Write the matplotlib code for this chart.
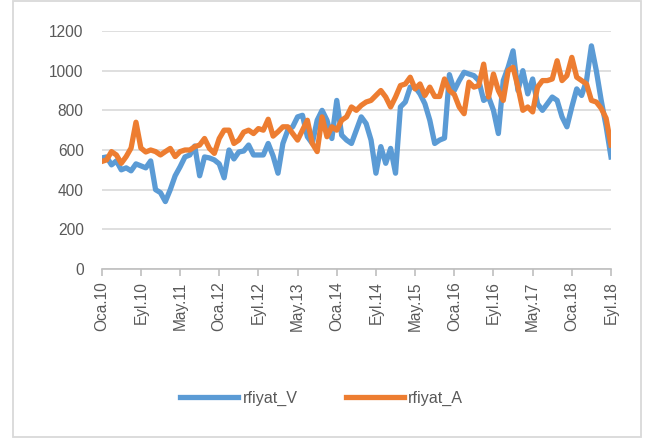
import matplotlib
matplotlib.use("Agg")
import matplotlib.pyplot as plt
from matplotlib.patches import Rectangle

# monthly series, Oca.10 .. Eyl.18 (105 months)
rfiyat_V = [560, 565, 525, 545, 500, 510, 495, 530, 520, 510,
            545, 400, 385, 340, 400, 470, 515, 565, 575, 620,
            470, 565, 560, 550, 530, 460, 600, 555, 590, 595,
            625, 575, 575, 575, 633, 570, 483, 633, 700, 717,
            767, 775, 667, 633, 750, 800, 750, 658, 850, 675,
            650, 633, 700, 767, 733, 650, 483, 617, 533, 608,
            483, 817, 842, 917, 917, 883, 833, 750, 633, 650,
            660, 980, 900, 950, 992, 983, 975, 950, 850, 867,
            800, 683, 950, 1017, 1100, 900, 1000, 883, 958, 833,
            800, 833, 867, 850, 767, 717, 817, 908, 875, 950,
            1125, 1000, 850, 720, 565]
rfiyat_A = [542, 550, 592, 575, 533, 567, 610, 740, 610, 590,
            600, 592, 575, 592, 608, 567, 592, 600, 600, 617,
            625, 658, 608, 583, 658, 700, 700, 633, 650, 690,
            700, 683, 708, 700, 755, 670, 692, 717, 717, 683,
            650, 700, 750, 633, 592, 767, 667, 717, 700, 750,
            767, 817, 800, 825, 842, 850, 875, 900, 867, 817,
            867, 925, 933, 967, 908, 933, 875, 917, 870, 870,
            958, 900, 880, 817, 783, 942, 917, 925, 1033, 867,
            983, 900, 850, 1000, 1017, 917, 800, 817, 792, 917,
            950, 950, 958, 1050, 950, 975, 1067, 967, 950, 933,
            850, 842, 810, 760, 625]
tick_labels = ["Oca.10", "Eyl.10", "May.11", "Oca.12", "Eyl.12", "May.13", "Oca.14",
               "Eyl.14", "May.15", "Oca.16", "Eyl.16", "May.17", "Oca.18", "Eyl.18"]

plt.rcParams["font.family"] = ["Liberation Sans", "DejaVu Sans"]

fig = plt.figure(figsize=(6.47, 4.41), dpi=100)
ax = fig.add_axes([101.7 / 647, 1 - 269 / 441, (611 - 101.7) / 647, (269 - 31) / 441])

x = range(len(rfiyat_V))
ax.plot(x, rfiyat_V, color="#5B9BD5", lw=3.8, label="rfiyat_V", solid_joinstyle="round")
ax.plot(x, rfiyat_A, color="#ED7D31", lw=3.8, label="rfiyat_A", solid_joinstyle="round")

ax.set_xlim(0, 104)
ax.set_ylim(0, 1200)
ax.set_yticks(range(0, 1201, 200))
ax.set_xticks(range(0, 105, 8))
ax.set_xticklabels(tick_labels, rotation=90)
ax.grid(axis="y", color="#d9d9d9", lw=1.2)
ax.set_axisbelow(True)
for s in ["top", "right", "left"]:
    ax.spines[s].set_visible(False)
ax.spines["bottom"].set_color("#bfbfbf")
ax.spines["bottom"].set_linewidth(1.2)
ax.spines["bottom"].set_zorder(1)
ax.tick_params(axis="x", colors="#bfbfbf", length=5, width=1.2, labelcolor="#595959",
               labelsize=11.2, pad=4)
ax.tick_params(axis="y", length=0, labelcolor="#595959", labelsize=11.2, pad=13)

fig.legend(loc="center", bbox_to_anchor=(0.497, 0.097), ncol=2, frameon=False,
           fontsize=11.6, handlelength=3.6, handletextpad=0.25, columnspacing=3.0,
           labelcolor="#595959")

fig.patches.append(Rectangle((13 / 647, 1 - 437 / 441), (641 - 13) / 647, (437 - 1) / 441,
                             transform=fig.transFigure, fill=False, ec="#d9d9d9", lw=1.3))

fig.savefig("out.png", dpi=100)
